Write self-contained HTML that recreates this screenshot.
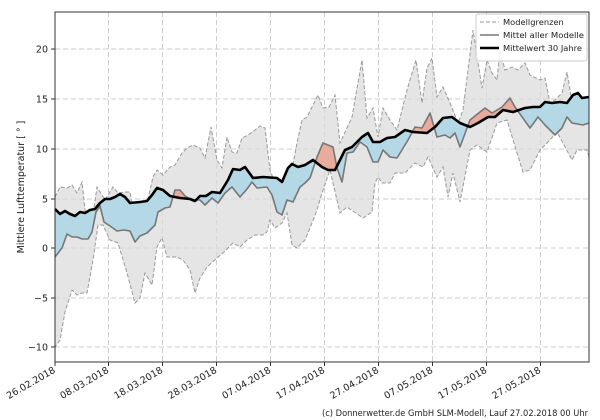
<!DOCTYPE html>
<html><head><meta charset="utf-8"><style>
html,body{margin:0;padding:0;background:#fff;}
svg{display:block;font-family:"DejaVu Sans","Liberation Sans",sans-serif;}
</style></head><body>
<svg width="600" height="420" viewBox="0 0 600 420" xmlns="http://www.w3.org/2000/svg">
<defs>
<clipPath id="below"><polygon points="55,209 60,214 65,211 70,214 75,216 80,212 85,213 90,210 95,209 100,203 105,199 110,199 115,197 120,194 125,197 130,203 140,202 147,201 152,195 157,188 163,190 170,196 180,198 190,199 195,201 200,196 206,196 212,192 220,193 228,180 233,169 240,170 245,167 253,178 263,177 277,178 282,182 288,168 292,164 298,167 305,165 313,160 322,167 328,170 335,170 345,150 352,147 362,137 368,133 373,142 380,142 387,138 395,137 405,130 413,132 427,133 435,127 443,118 452,117 460,123 470,127 478,123 488,117 495,117 503,110 513,112 525,108 533,107 540,107 545,102 552,103 560,102 567,103 573,95 578,93 582,98 589,97 589,362 55,362"/></clipPath>
<clipPath id="above"><polygon points="55,209 60,214 65,211 70,214 75,216 80,212 85,213 90,210 95,209 100,203 105,199 110,199 115,197 120,194 125,197 130,203 140,202 147,201 152,195 157,188 163,190 170,196 180,198 190,199 195,201 200,196 206,196 212,192 220,193 228,180 233,169 240,170 245,167 253,178 263,177 277,178 282,182 288,168 292,164 298,167 305,165 313,160 322,167 328,170 335,170 345,150 352,147 362,137 368,133 373,142 380,142 387,138 395,137 405,130 413,132 427,133 435,127 443,118 452,117 460,123 470,127 478,123 488,117 495,117 503,110 513,112 525,108 533,107 540,107 545,102 552,103 560,102 567,103 573,95 578,93 582,98 589,97 589,12 55,12"/></clipPath>
</defs>
<g stroke="#cccccc" stroke-width="1" stroke-dasharray="5,3">
<line x1="108.5" y1="12" x2="108.5" y2="362"/><line x1="162.5" y1="12" x2="162.5" y2="362"/><line x1="216.5" y1="12" x2="216.5" y2="362"/><line x1="270.5" y1="12" x2="270.5" y2="362"/><line x1="324.5" y1="12" x2="324.5" y2="362"/><line x1="378.5" y1="12" x2="378.5" y2="362"/><line x1="432.5" y1="12" x2="432.5" y2="362"/><line x1="486.5" y1="12" x2="486.5" y2="362"/><line x1="540.5" y1="12" x2="540.5" y2="362"/>
<line x1="55" y1="49" x2="589" y2="49"/><line x1="55" y1="99" x2="589" y2="99"/><line x1="55" y1="149" x2="589" y2="149"/><line x1="55" y1="199" x2="589" y2="199"/><line x1="55" y1="248" x2="589" y2="248"/><line x1="55" y1="298" x2="589" y2="298"/><line x1="55" y1="347" x2="589" y2="347"/>
</g>
<polygon fill="#dcdcdc" fill-opacity="0.75" points="55,197 60,187 67,188 72,185 77,193 82,182 87,228 93,215 97,187 100,192 105,200 113,187 118,193 125,192 130,192 133,210 140,205 147,203 153,177 157,170 163,175 170,167 175,165 182,153 187,148 193,145 200,148 205,158 211,127 217,160 222,168 227,137 232,152 237,153 242,138 248,135 255,130 260,126 265,128 270,170 275,183 280,178 285,192 290,180 297,143 302,120 307,117 318,95 323,108 329,107 335,95 340,143 346,130 352,117 362,60 367,118 373,108 378,137 383,108 390,120 397,130 407,90 416,60 422,103 427,68 432,58 437,97 443,87 450,103 458,123 463,110 473,30 482,88 487,60 492,73 497,80 500,50 505,70 512,67 518,70 525,63 530,75 540,80 545,78 550,103 555,100 562,93 567,72 572,102 578,98 587,97 589,98 589,157 587,150 577,150 572,160 563,143 557,132 550,140 540,150 530,170 523,172 517,153 507,120 497,123 487,152 477,145 470,150 460,202 453,173 448,197 443,167 437,177 428,157 423,167 415,163 405,173 395,173 390,183 382,183 378,177 375,183 372,212 363,218 347,207 340,213 330,170 322,193 317,210 312,223 305,240 297,248 292,245 287,213 282,223 275,228 270,220 267,232 263,235 255,235 247,240 240,247 233,243 223,253 217,258 207,267 200,278 195,293 190,270 183,260 177,257 167,257 162,238 157,247 152,285 145,273 140,298 135,303 127,273 118,243 110,240 103,225 98,225 93,260 87,293 82,293 77,295 72,290 65,312 60,340 55,347"/>
<g fill="none" stroke="#999" stroke-width="1" stroke-dasharray="4,2">
<polyline points="55,197 60,187 67,188 72,185 77,193 82,182 87,228 93,215 97,187 100,192 105,200 113,187 118,193 125,192 130,192 133,210 140,205 147,203 153,177 157,170 163,175 170,167 175,165 182,153 187,148 193,145 200,148 205,158 211,127 217,160 222,168 227,137 232,152 237,153 242,138 248,135 255,130 260,126 265,128 270,170 275,183 280,178 285,192 290,180 297,143 302,120 307,117 318,95 323,108 329,107 335,95 340,143 346,130 352,117 362,60 367,118 373,108 378,137 383,108 390,120 397,130 407,90 416,60 422,103 427,68 432,58 437,97 443,87 450,103 458,123 463,110 473,30 482,88 487,60 492,73 497,80 500,50 505,70 512,67 518,70 525,63 530,75 540,80 545,78 550,103 555,100 562,93 567,72 572,102 578,98 587,97 589,98"/>
<polyline points="589,157 587,150 577,150 572,160 563,143 557,132 550,140 540,150 530,170 523,172 517,153 507,120 497,123 487,152 477,145 470,150 460,202 453,173 448,197 443,167 437,177 428,157 423,167 415,163 405,173 395,173 390,183 382,183 378,177 375,183 372,212 363,218 347,207 340,213 330,170 322,193 317,210 312,223 305,240 297,248 292,245 287,213 282,223 275,228 270,220 267,232 263,235 255,235 247,240 240,247 233,243 223,253 217,258 207,267 200,278 195,293 190,270 183,260 177,257 167,257 162,238 157,247 152,285 145,273 140,298 135,303 127,273 118,243 110,240 103,225 98,225 93,260 87,293 82,293 77,295 72,290 65,312 60,340 55,347"/>
</g>
<g>
<polygon clip-path="url(#below)" fill="#b5d8e6" points="55,257 62,248 67,234 72,237 77,237 82,239 88,239 92,232 96,212 100,206 104,222 110,226 117,231 124,230 130,231 135,242 140,236 147,233 155,225 158,212 165,208 170,207 175,190 180,190 185,196 192,200 200,200 205,205 212,198 218,203 225,193 232,187 240,197 247,189 252,182 257,188 267,187 272,195 277,212 282,215 287,200 293,202 300,187 305,183 310,178 317,157 323,143 333,147 337,168 342,182 347,153 353,152 360,142 367,147 373,162 378,162 383,150 390,157 397,158 408,140 415,127 422,128 430,113 437,137 445,135 450,138 455,133 460,147 470,120 485,108 492,113 502,107 510,98 515,107 530,128 538,117 545,125 555,135 562,128 567,117 572,123 583,125 589,123 589,97 582,98 578,93 573,95 567,103 560,102 552,103 545,102 540,107 533,107 525,108 513,112 503,110 495,117 488,117 478,123 470,127 460,123 452,117 443,118 435,127 427,133 413,132 405,130 395,137 387,138 380,142 373,142 368,133 362,137 352,147 345,150 335,170 328,170 322,167 313,160 305,165 298,167 292,164 288,168 282,182 277,178 263,177 253,178 245,167 240,170 233,169 228,180 220,193 212,192 206,196 200,196 195,201 190,199 180,198 170,196 163,190 157,188 152,195 147,201 140,202 130,203 125,197 120,194 115,197 110,199 105,199 100,203 95,209 90,210 85,213 80,212 75,216 70,214 65,211 60,214 55,209"/>
<polygon clip-path="url(#above)" fill="#e8ab9c" points="55,257 62,248 67,234 72,237 77,237 82,239 88,239 92,232 96,212 100,206 104,222 110,226 117,231 124,230 130,231 135,242 140,236 147,233 155,225 158,212 165,208 170,207 175,190 180,190 185,196 192,200 200,200 205,205 212,198 218,203 225,193 232,187 240,197 247,189 252,182 257,188 267,187 272,195 277,212 282,215 287,200 293,202 300,187 305,183 310,178 317,157 323,143 333,147 337,168 342,182 347,153 353,152 360,142 367,147 373,162 378,162 383,150 390,157 397,158 408,140 415,127 422,128 430,113 437,137 445,135 450,138 455,133 460,147 470,120 485,108 492,113 502,107 510,98 515,107 530,128 538,117 545,125 555,135 562,128 567,117 572,123 583,125 589,123 589,97 582,98 578,93 573,95 567,103 560,102 552,103 545,102 540,107 533,107 525,108 513,112 503,110 495,117 488,117 478,123 470,127 460,123 452,117 443,118 435,127 427,133 413,132 405,130 395,137 387,138 380,142 373,142 368,133 362,137 352,147 345,150 335,170 328,170 322,167 313,160 305,165 298,167 292,164 288,168 282,182 277,178 263,177 253,178 245,167 240,170 233,169 228,180 220,193 212,192 206,196 200,196 195,201 190,199 180,198 170,196 163,190 157,188 152,195 147,201 140,202 130,203 125,197 120,194 115,197 110,199 105,199 100,203 95,209 90,210 85,213 80,212 75,216 70,214 65,211 60,214 55,209"/>
</g>
<polyline fill="none" stroke="#777" stroke-width="1.6" stroke-linejoin="round" points="55,257 62,248 67,234 72,237 77,237 82,239 88,239 92,232 96,212 100,206 104,222 110,226 117,231 124,230 130,231 135,242 140,236 147,233 155,225 158,212 165,208 170,207 175,190 180,190 185,196 192,200 200,200 205,205 212,198 218,203 225,193 232,187 240,197 247,189 252,182 257,188 267,187 272,195 277,212 282,215 287,200 293,202 300,187 305,183 310,178 317,157 323,143 333,147 337,168 342,182 347,153 353,152 360,142 367,147 373,162 378,162 383,150 390,157 397,158 408,140 415,127 422,128 430,113 437,137 445,135 450,138 455,133 460,147 470,120 485,108 492,113 502,107 510,98 515,107 530,128 538,117 545,125 555,135 562,128 567,117 572,123 583,125 589,123"/>
<polyline fill="none" stroke="#000" stroke-width="2.6" stroke-linejoin="round" points="55,209 60,214 65,211 70,214 75,216 80,212 85,213 90,210 95,209 100,203 105,199 110,199 115,197 120,194 125,197 130,203 140,202 147,201 152,195 157,188 163,190 170,196 180,198 190,199 195,201 200,196 206,196 212,192 220,193 228,180 233,169 240,170 245,167 253,178 263,177 277,178 282,182 288,168 292,164 298,167 305,165 313,160 322,167 328,170 335,170 345,150 352,147 362,137 368,133 373,142 380,142 387,138 395,137 405,130 413,132 427,133 435,127 443,118 452,117 460,123 470,127 478,123 488,117 495,117 503,110 513,112 525,108 533,107 540,107 545,102 552,103 560,102 567,103 573,95 578,93 582,98 589,97"/>
<rect x="55" y="12" width="534" height="350" fill="none" stroke="#333" stroke-width="1"/>
<g stroke="#333" stroke-width="1">
<line x1="51" y1="49" x2="55" y2="49"/><line x1="51" y1="99" x2="55" y2="99"/><line x1="51" y1="149" x2="55" y2="149"/><line x1="51" y1="199" x2="55" y2="199"/><line x1="51" y1="248" x2="55" y2="248"/><line x1="51" y1="298" x2="55" y2="298"/><line x1="51" y1="347" x2="55" y2="347"/>
<line x1="55" y1="362" x2="55" y2="366"/><line x1="108.5" y1="362" x2="108.5" y2="366"/><line x1="162.5" y1="362" x2="162.5" y2="366"/><line x1="216.5" y1="362" x2="216.5" y2="366"/><line x1="270.5" y1="362" x2="270.5" y2="366"/><line x1="324.5" y1="362" x2="324.5" y2="366"/><line x1="378.5" y1="362" x2="378.5" y2="366"/><line x1="432.5" y1="362" x2="432.5" y2="366"/><line x1="486.5" y1="362" x2="486.5" y2="366"/><line x1="540.5" y1="362" x2="540.5" y2="366"/>
</g>
<g font-size="9.5" fill="#222" text-anchor="end">
<text x="48" y="52.5">20</text><text x="48" y="102.5">15</text><text x="48" y="152.5">10</text><text x="48" y="202.5">5</text><text x="48" y="251.5">0</text><text x="48" y="301.5">−5</text><text x="48" y="350.5">−10</text>
</g>
<g font-size="9.5" fill="#222" text-anchor="end">
<text transform="translate(56,372) rotate(-30)">26.02.2018</text>
<text transform="translate(109.5,372) rotate(-30)">08.03.2018</text>
<text transform="translate(163.5,372) rotate(-30)">18.03.2018</text>
<text transform="translate(217.5,372) rotate(-30)">28.03.2018</text>
<text transform="translate(271.5,372) rotate(-30)">07.04.2018</text>
<text transform="translate(325.5,372) rotate(-30)">17.04.2018</text>
<text transform="translate(379.5,372) rotate(-30)">27.04.2018</text>
<text transform="translate(433.5,372) rotate(-30)">07.05.2018</text>
<text transform="translate(487.5,372) rotate(-30)">17.05.2018</text>
<text transform="translate(541.5,372) rotate(-30)">27.05.2018</text>
</g>
<text transform="translate(24,187) rotate(-90)" font-size="9.5" fill="#222" text-anchor="middle">Mittlere Lufttemperatur [ ° ]</text>
<rect x="476" y="14" width="111" height="47" rx="2" fill="#fff" fill-opacity="0.85" stroke="#ccc" stroke-width="1"/>
<line x1="480" y1="22" x2="499" y2="22" stroke="#999" stroke-width="1" stroke-dasharray="4,2"/>
<line x1="480" y1="35" x2="499" y2="35" stroke="#777" stroke-width="1.6"/>
<line x1="480" y1="48" x2="499" y2="48" stroke="#000" stroke-width="2.6"/>
<g font-size="8.3" fill="#222">
<text x="503" y="25">Modellgrenzen</text>
<text x="503" y="38" textLength="81" lengthAdjust="spacingAndGlyphs">Mittel aller Modelle</text>
<text x="503" y="51" textLength="79" lengthAdjust="spacingAndGlyphs">Mittelwert 30 Jahre</text>
</g>
<text x="322" y="416" font-size="8.5" fill="#222" textLength="266" lengthAdjust="spacingAndGlyphs">(c) Donnerwetter.de GmbH SLM-Modell, Lauf 27.02.2018 00 Uhr</text>
</svg>
</body></html>
